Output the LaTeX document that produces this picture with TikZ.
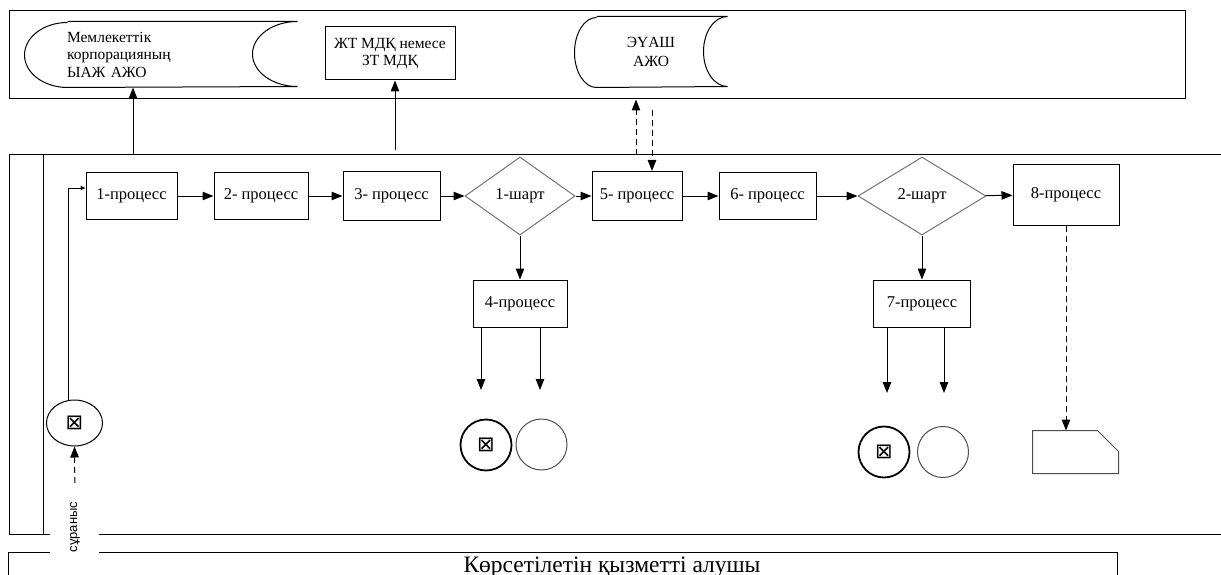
\documentclass[tikz,border=0pt]{standalone}
\usepackage{fontspec}
\setmainfont{Liberation Serif}
\newfontfamily\sansfam{Liberation Sans}
\newfontfamily\symfam{DejaVu Sans}
\usetikzlibrary{shapes.geometric,arrows.meta}

\begin{document}
\begin{tikzpicture}[x=1pt, y=-1pt, line width=1pt, >={Triangle[length=11pt,width=8.5pt]},
proc node/.style={rectangle,draw,inner sep=2pt,font=\fontsize{16.5}{18}\selectfont},
cond node/.style={diamond,draw=black!55,inner sep=0pt,minimum height=78pt,font=\fontsize{16.5}{18}\selectfont},
store node/.style={inner sep=0pt,font=\fontsize{15.5}{17.5}\selectfont},
end node/.style={circle,draw,minimum size=51pt,inner sep=0pt,font=\symfam\fontsize{21}{21}\selectfont},
dash line/.style={dash pattern=on 6pt off 4pt}]
\useasboundingbox (0,0) rectangle (1221,575);
% pools
\node[draw,minimum width=1176pt,minimum height=88pt,inner sep=0pt] (top) at (597,55) {};
\draw (1221,155) -- (9,155) -- (9,534) -- (50,534);
\draw (99,534) -- (1221,534);
\draw (43,155) -- (43,534);
\draw (50,552) -- (8,552) -- (8,575);
\draw (99,552) -- (1117,552) -- (1117,575);
\node[anchor=base,font=\fontsize{23.5}{23.5}\selectfont] (recv) at (612,572) {Көрсетілетін қызметті алушы};
\begin{scope}
\node[store node,inner xsep=42pt,text width=188pt,align=left,minimum height=65pt] (db1) at (161,54.5) {Мемлекеттік\\корпорацияның\\ЫАЖ АЖО};
\node[proc node,font=\fontsize{15.5}{17.5}\selectfont,align=center,minimum width=130pt,minimum height=53pt] (db3) at (390,53.5) {ЖТ МДҚ немесе\\ЗТ МДҚ};
\node[store node,align=center,minimum width=152pt,minimum height=70pt] (db2) at (651,52) {ЭҮАШ\\[2pt]АЖО};
\node[proc node,minimum width=91pt,minimum height=47pt] (p1) at (131.5,196) {1-процесс};
\node[proc node,minimum width=94pt,minimum height=46pt] (p2) at (261,196) {2- процесс};
\node[proc node,minimum width=97pt,minimum height=49pt] (p3) at (391.5,196) {3- процесс};
\node[cond node,minimum width=110pt] (c1) at (520,196) {1-шарт};
\node[proc node,minimum width=90pt,minimum height=49pt] (p5) at (637,196) {5- процесс};
\node[proc node,minimum width=97pt,minimum height=47pt] (p6) at (767.5,196) {6- процесс};
\node[cond node,minimum width=128pt] (c2) at (922,196) {2-шарт};
\node[proc node,minimum width=106pt,minimum height=60pt] (p8) at (1066,195) {8-процесс};
\node[proc node,minimum width=94pt,minimum height=47pt] (p4) at (520,303.5) {4-процесс};
\node[proc node,minimum width=97pt,minimum height=47pt] (p7) at (922,303.5) {7-процесс};
\node[end node,ellipse,minimum width=56pt,minimum height=46pt] (start) at (74.5,423) {⊠};
\node[end node,line width=1.8pt] (e1) at (486,445) {⊠};
\node[end node,draw=black!70] (e2) at (541.5,444.5) {};
\node[end node,line width=1.8pt] (e3) at (884,452) {⊠};
\node[end node,draw=black!70] (e4) at (943,452) {};
\node[minimum width=85pt,minimum height=42pt,inner sep=0pt] (doc) at (1075.5,452) {};
\node[rotate=90,font=\sansfam\fontsize{13}{13}\selectfont] (req) at (75,527) {сұраныс};
%\node[proc node] (p) at (,) {};
\end{scope}
% outlines
\draw ([xshift=43pt]db1.north west) -- (db1.north east) arc[start angle=90,end angle=270,x radius=45pt,y radius=32.5pt] -- ([xshift=43pt]db1.south west) arc[start angle=270,end angle=90,x radius=43pt,y radius=32.5pt];
\draw ([xshift=22pt]db2.north west) -- (db2.north east) arc[start angle=90,end angle=270,x radius=24pt,y radius=35pt] -- ([xshift=22pt]db2.south west) arc[start angle=270,end angle=90,x radius=22pt,y radius=35pt];
\draw[black!70] (doc.south west) -- (doc.north west) -- ([xshift=-21pt]doc.north east) -- ([yshift=-21pt]doc.north east) -- (doc.south east) -- cycle;
\coordinate (a1) at (133,155);
\coordinate (a2) at (395,150);
\coordinate (a3) at (636,155);
\coordinate (a4) at (652,110);
\coordinate (t1) at (481,390);
\coordinate (t2) at (540,390);
\coordinate (t3) at (887,393);
\coordinate (t4) at (944,393);
\begin{scope}
\draw[->] (p1) edge (p2);
\draw[->] (p2) edge (p3);
\draw[->] (p3) edge (c1);
\draw[->] (c1) edge (p5);
\draw[->] (p5) edge (p6);
\draw[->] (p6) edge (c2);
\draw[->] (c2) edge (p8);
\draw[->] (c1) edge (p4);
\draw[->] (c2) edge (p7);
\draw[->] (a1) -- (a1 |- db1.south);
\draw[->] (a2) -- (a2 |- db3.south);
\draw[->,dash line] (a3) -- (a3 |- top.south);
\draw[->,dash line] (a4) -- (a4 |- p5.north);
\draw[->] (t1 |- p4.south) -- (t1);
\draw[->] (t2 |- p4.south) -- (t2);
\draw[->] (t3 |- p7.south) -- (t3);
\draw[->] (t4 |- p7.south) -- (t4);
\draw[->,dash line] (p8.south) -- (p8.south |- doc.north);
\draw[-{Triangle[length=5pt,width=4pt]}] ([xshift=-6.5pt]start.north) |- ([yshift=8pt]p1.west);
\draw[->,dash line,shorten <=15pt] (req.east) -- (start.south);
\end{scope}
\end{tikzpicture}
\end{document}
